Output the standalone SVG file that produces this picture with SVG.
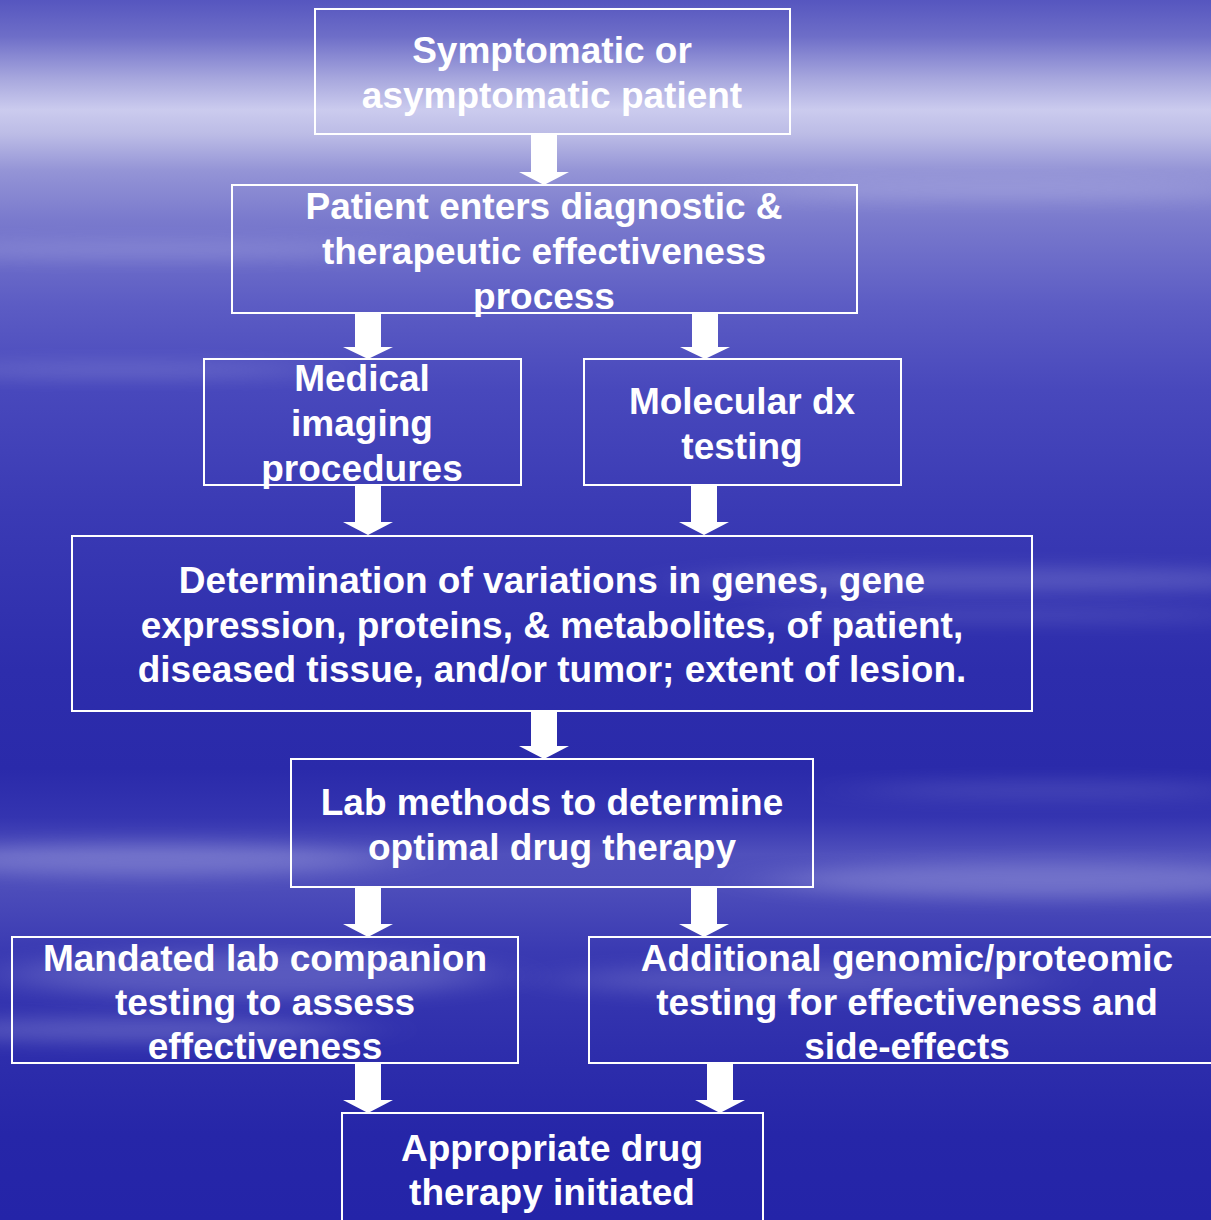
<svg xmlns="http://www.w3.org/2000/svg" width="1211" height="1220" viewBox="0 0 1211 1220">
<defs>
<linearGradient id="bg" x1="0" y1="0" x2="0" y2="1">
<stop offset="0" stop-color="#5656bf"/>
<stop offset="0.03" stop-color="#6e6ec8"/>
<stop offset="0.065" stop-color="#a8a8de"/>
<stop offset="0.09" stop-color="#cbcbee"/>
<stop offset="0.11" stop-color="#bcbce6"/>
<stop offset="0.14" stop-color="#9494d6"/>
<stop offset="0.18" stop-color="#7a7acd"/>
<stop offset="0.25" stop-color="#5c5cc4"/>
<stop offset="0.32" stop-color="#4848bc"/>
<stop offset="0.42" stop-color="#3a3ab4"/>
<stop offset="0.55" stop-color="#2d2dac"/>
<stop offset="0.63" stop-color="#2a2aaa"/>
<stop offset="0.67" stop-color="#3434b0"/>
<stop offset="0.7" stop-color="#5050bc"/>
<stop offset="0.73" stop-color="#4c4cba"/>
<stop offset="0.78" stop-color="#3a3ab2"/>
<stop offset="0.86" stop-color="#2e2eac"/>
<stop offset="0.93" stop-color="#2626a8"/>
<stop offset="1" stop-color="#2424a8"/>
</linearGradient>
<filter id="blur" x="-30%" y="-300%" width="160%" height="700%">
<feGaussianBlur stdDeviation="40 9"/>
</filter>
<style>
.box{fill:none;stroke:#ffffff;stroke-width:2}
.t{font-family:"Liberation Sans",Arial,sans-serif;font-weight:bold;font-size:37px;fill:#ffffff;text-anchor:middle}
.arr{fill:#ffffff}
.st{fill:#d0d0f2;filter:url(#blur)}
</style>
</defs>
<rect x="0" y="0" width="1211" height="1220" fill="url(#bg)"/>
<g id="streaks">
<ellipse class="st" cx="150" cy="250" rx="260" ry="8" opacity="0.25"/>
<ellipse class="st" cx="120" cy="370" rx="200" ry="6" opacity="0.25"/>
<ellipse class="st" cx="1000" cy="190" rx="260" ry="8" opacity="0.25"/>
<ellipse class="st" cx="1000" cy="580" rx="320" ry="12" opacity="0.22"/>
<ellipse class="st" cx="1000" cy="615" rx="260" ry="6" opacity="0.18"/>
<ellipse class="st" cx="150" cy="860" rx="240" ry="16" opacity="0.28"/>
<ellipse class="st" cx="1050" cy="880" rx="280" ry="18" opacity="0.28"/>
<ellipse class="st" cx="250" cy="975" rx="240" ry="24" opacity="0.22"/>
<ellipse class="st" cx="140" cy="1030" rx="220" ry="12" opacity="0.25"/>
<ellipse class="st" cx="800" cy="980" rx="240" ry="16" opacity="0.18"/>
<ellipse class="st" cx="1050" cy="790" rx="200" ry="8" opacity="0.15"/>
</g>
<g id="connectors">
<polygon class="arr" points="531,134 557,134 557,172 569,172 544,185 519,172 531,172"/>
<polygon class="arr" points="355,313 381,313 381,347 393,347 368,359 343,347 355,347"/>
<polygon class="arr" points="692,313 718,313 718,347 730,347 705,359 680,347 692,347"/>
<polygon class="arr" points="355,485 381,485 381,522 393,522 368,535 343,522 355,522"/>
<polygon class="arr" points="691,485 717,485 717,522 729,522 704,535 679,522 691,522"/>
<polygon class="arr" points="531,711 557,711 557,746 569,746 544,759 519,746 531,746"/>
<polygon class="arr" points="355,887 381,887 381,924 393,924 368,937 343,924 355,924"/>
<polygon class="arr" points="691,887 717,887 717,924 729,924 704,937 679,924 691,924"/>
<polygon class="arr" points="355,1063 381,1063 381,1100 393,1100 368,1113 343,1100 355,1100"/>
<polygon class="arr" points="707,1063 733,1063 733,1100 745,1100 720,1113 695,1100 707,1100"/>
</g>
<g id="n1"><rect class="box" x="315" y="9" width="475" height="125"/>
<text class="t" x="552" y="63">Symptomatic or</text>
<text class="t" x="552" y="108">asymptomatic patient</text></g>
<g id="n2"><rect class="box" x="232" y="185" width="625" height="128"/>
<text class="t" x="544" y="219">Patient enters diagnostic &amp;</text>
<text class="t" x="544" y="264">therapeutic effectiveness</text>
<text class="t" x="544" y="309">process</text></g>
<g id="n3"><rect class="box" x="204" y="359" width="317" height="126"/>
<text class="t" x="362" y="391">Medical</text>
<text class="t" x="362" y="436">imaging</text>
<text class="t" x="362" y="481">procedures</text></g>
<g id="n4"><rect class="box" x="584" y="359" width="317" height="126"/>
<text class="t" x="742" y="414">Molecular dx</text>
<text class="t" x="742" y="459">testing</text></g>
<g id="n5"><rect class="box" x="72" y="536" width="960" height="175"/>
<text class="t" x="552" y="593">Determination of variations in genes, gene</text>
<text class="t" x="552" y="638">expression, proteins, &amp; metabolites, of patient,</text>
<text class="t" x="552" y="682">diseased tissue, and/or tumor; extent of lesion.</text></g>
<g id="n6"><rect class="box" x="291" y="759" width="522" height="128"/>
<text class="t" x="552" y="815">Lab methods to determine</text>
<text class="t" x="552" y="860">optimal drug therapy</text></g>
<g id="n7"><rect class="box" x="12" y="937" width="506" height="126"/>
<text class="t" x="265" y="971">Mandated lab companion</text>
<text class="t" x="265" y="1015">testing to assess</text>
<text class="t" x="265" y="1059">effectiveness</text></g>
<g id="n8"><rect class="box" x="589" y="937" width="640" height="126"/>
<text class="t" x="907" y="971">Additional genomic/proteomic</text>
<text class="t" x="907" y="1015">testing for effectiveness and</text>
<text class="t" x="907" y="1059">side-effects</text></g>
<g id="n9"><rect class="box" x="342" y="1113" width="421" height="130"/>
<text class="t" x="552" y="1161">Appropriate drug</text>
<text class="t" x="552" y="1205">therapy initiated</text></g>
</svg>
